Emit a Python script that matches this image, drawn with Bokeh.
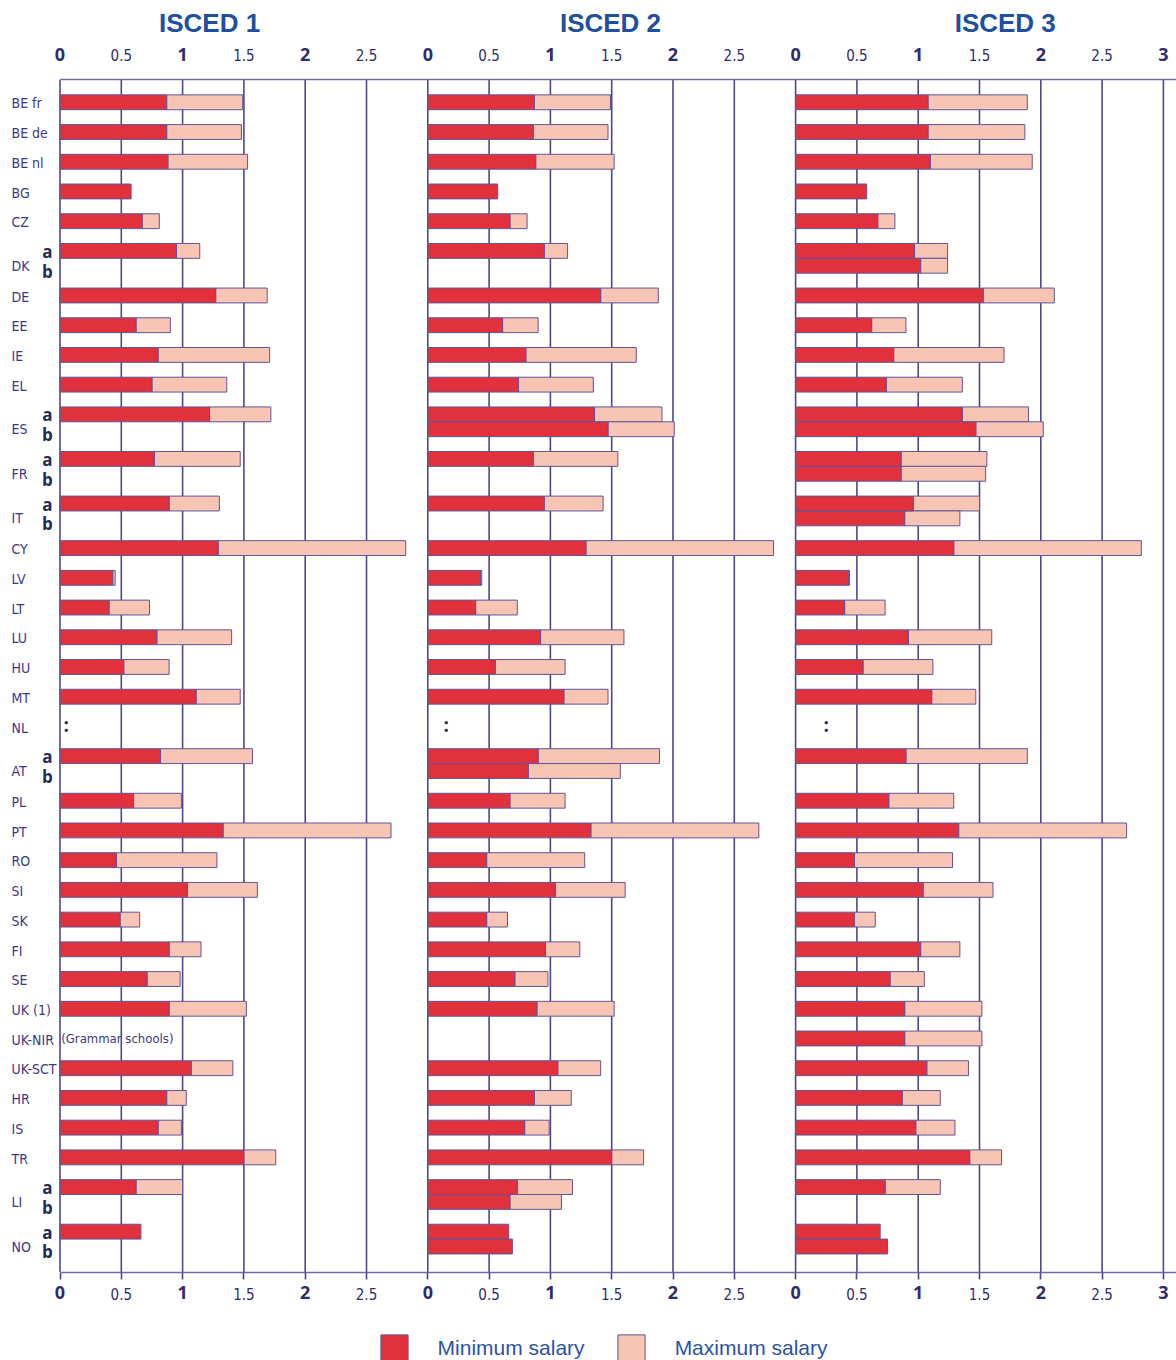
from bokeh.plotting import figure
from bokeh.models import ColumnDataSource, Range1d, LinearAxis, FixedTicker, Legend, LegendItem
from bokeh.core.properties import value
from bokeh.embed import file_html
from bokeh.resources import INLINE

NaN = float("nan")

# ---------------- data ----------------
panel_titles = ["ISCED 1", "ISCED 2", "ISCED 3"]

countries = ["BE fr", "BE de", "BE nl", "BG", "CZ", "DK", "DK", "DE", "EE", "IE", "EL",
             "ES", "ES", "FR", "FR", "IT", "IT", "CY", "LV", "LT", "LU", "HU", "MT", "NL",
             "AT", "AT", "PL", "PT", "RO", "SI", "SK", "FI", "SE", "UK (1)", "UK-NIR",
             "UK-SCT", "HR", "IS", "TR", "LI", "LI", "NO", "NO"]
subrows = ["", "", "", "", "", "a", "b", "", "", "", "",
           "a", "b", "a", "b", "a", "b", "", "", "", "", "", "", "",
           "a", "b", "", "", "", "", "", "", "", "", "",
           "", "", "", "", "a", "b", "a", "b"]

isced1_min = [0.87, 0.87, 0.88, 0.58, 0.67, 0.95, NaN, 1.27, 0.62, 0.80, 0.75,
              1.22, NaN, 0.77, NaN, 0.89, NaN, 1.29, 0.43, 0.40, 0.79, 0.52, 1.11, NaN,
              0.82, NaN, 0.60, 1.33, 0.46, 1.04, 0.49, 0.89, 0.71, 0.89, NaN,
              1.07, 0.87, 0.80, 1.50, 0.62, NaN, 0.66, NaN]
isced1_max = [1.49, 1.48, 1.53, NaN, 0.81, 1.14, NaN, 1.69, 0.90, 1.71, 1.36,
              1.72, NaN, 1.47, NaN, 1.30, NaN, 2.82, 0.45, 0.73, 1.40, 0.89, 1.47, NaN,
              1.57, NaN, 0.99, 2.70, 1.28, 1.61, 0.65, 1.15, 0.98, 1.52, NaN,
              1.41, 1.03, 0.99, 1.76, 1.00, NaN, NaN, NaN]
isced2_min = [0.87, 0.86, 0.88, 0.57, 0.67, 0.95, NaN, 1.41, 0.61, 0.80, 0.74,
              1.36, 1.47, 0.86, NaN, 0.95, NaN, 1.29, 0.43, 0.39, 0.92, 0.55, 1.11, NaN,
              0.90, 0.82, 0.67, 1.33, 0.48, 1.04, 0.48, 0.96, 0.71, 0.89, NaN,
              1.06, 0.87, 0.79, 1.50, 0.73, 0.67, 0.66, 0.69]
isced2_max = [1.49, 1.47, 1.52, NaN, 0.81, 1.14, NaN, 1.88, 0.90, 1.70, 1.35,
              1.91, 2.01, 1.55, NaN, 1.43, NaN, 2.82, 0.44, 0.73, 1.60, 1.12, 1.47, NaN,
              1.89, 1.57, 1.12, 2.70, 1.28, 1.61, 0.65, 1.24, 0.98, 1.52, NaN,
              1.41, 1.17, 0.99, 1.76, 1.18, 1.09, NaN, NaN]
isced3_min = [1.08, 1.08, 1.10, 0.58, 0.67, 0.97, 1.02, 1.53, 0.62, 0.80, 0.74,
              1.36, 1.47, 0.86, 0.86, 0.96, 0.89, 1.29, 0.43, 0.40, 0.92, 0.55, 1.11, NaN,
              0.90, NaN, 0.76, 1.33, 0.48, 1.04, 0.48, 1.02, 0.77, 0.89, 0.89,
              1.07, 0.87, 0.98, 1.42, 0.73, NaN, 0.69, 0.75]
isced3_max = [1.89, 1.87, 1.93, NaN, 0.81, 1.24, 1.24, 2.11, 0.90, 1.70, 1.36,
              1.90, 2.02, 1.56, 1.55, 1.50, 1.34, 2.82, 0.44, 0.73, 1.60, 1.12, 1.47, NaN,
              1.89, NaN, 1.29, 2.70, 1.28, 1.61, 0.65, 1.34, 1.05, 1.52, 1.52,
              1.41, 1.18, 1.30, 1.68, 1.18, NaN, NaN, NaN]

scale_ticks = [0, 0.5, 1, 1.5, 2, 2.5]
scale_max = 3
legend_labels = ["Minimum salary", "Maximum salary"]
note_text = "(Grammar schools)"
note_country = "UK-NIR"
missing_country = "NL"
missing_mark = ":"

mins = [isced1_min, isced2_min, isced3_min]
maxs = [isced1_max, isced2_max, isced3_max]

# ---------------- layout constants ----------------
W, H = 1176, 1360
PX, PY = 122.6, 29.72          # pixels per x unit / per row unit
X0_PX, Y0_PX = 59.5, 101.8     # pixel position of x=0 / first row
PANEL_SPAN = 3.0
BAR_H = 0.5

RED = "#e0313d"
PINK = "#f8c4b4"
BAR_LINE = "#5d5799"
GRID = "#4c4791"
AXIS_LINE = "#6f6ba6"
TICK_C = "#2f2b6f"
LABEL_C = "#3d3884"
SUB_C = "#1f2d5a"
TITLE_C = "#214f9f"
LEG_C = "#2c52a6"
NARROW = "DejaVu Sans Condensed, Roboto"

x_start = -X0_PX / PX
x_end = x_start + W / PX
y_top = -Y0_PX / PY
y_bottom = y_top + H / PY

# row positions: pairs (a/b) occupy half steps
ypos = []
pos = 0.0
for s in subrows:
    ypos.append(pos)
    pos += 0.5 if s == "a" else 1.0

top_axis_y = ypos[0] - 0.77
bottom_axis_y = ypos[-1] + 0.86

p = figure(width=W, height=H, x_range=Range1d(x_start, x_end),
           y_range=Range1d(y_bottom, y_top), output_backend="svg",
           toolbar_location=None, x_axis_location=None, y_axis_location=None,
           min_border=0, title=None, outline_line_color=None,
           background_fill_color="white", border_fill_color="white")
p.xgrid.visible = False
p.ygrid.visible = False

# ---------------- ticks ----------------
int_ticks, half_ticks = [], []
int_over, half_over = {}, {}
for k in range(len(panel_titles)):
    off = k * PANEL_SPAN
    for v in scale_ticks:
        t = float(off + v)
        if float(v).is_integer():
            int_ticks.append(t)
            int_over[t] = "%g" % v
        else:
            half_ticks.append(t)
            half_over[t] = "%g" % v
last = float((len(panel_titles) - 1) * PANEL_SPAN + scale_max)
int_ticks.append(last)
int_over[last] = "%g" % scale_max

grid_x = sorted(int_ticks + half_ticks)
p.segment(x0=grid_x, y0=[top_axis_y] * len(grid_x), x1=grid_x,
          y1=[bottom_axis_y] * len(grid_x), line_color=GRID, line_width=1.6)


def add_axis(side, loc, ticks, over, font, style, size, show_line, tick_out, standoff):
    ax = LinearAxis(fixed_location=loc, ticker=FixedTicker(ticks=ticks),
                    major_label_overrides=over, bounds=(0, x_end))
    ax.axis_line_color = AXIS_LINE if show_line else None
    ax.axis_line_width = 1.5
    ax.major_tick_in = 0
    ax.major_tick_out = tick_out
    ax.major_tick_line_color = GRID
    ax.major_tick_line_width = 1.6
    ax.minor_tick_in = 0
    ax.minor_tick_out = 0
    ax.major_label_standoff = standoff
    ax.major_label_text_font = font
    ax.major_label_text_font_style = style
    ax.major_label_text_font_size = size
    ax.major_label_text_color = TICK_C
    p.add_layout(ax, side)


add_axis("above", top_axis_y, int_ticks, int_over, "Open Sans", "bold", "18px", True, 0, 18)
add_axis("above", top_axis_y, half_ticks, half_over, NARROW, "normal", "15px", False, 0, 18)
add_axis("below", bottom_axis_y, int_ticks, int_over, "Open Sans", "bold", "18px", True, 7, 7)
add_axis("below", bottom_axis_y, half_ticks, half_over, NARROW, "normal", "15px", False, 7, 9)

# ---------------- bars ----------------
min_d = dict(y=[], left=[], right=[])
max_d = dict(y=[], left=[], right=[])
for k in range(len(panel_titles)):
    off = k * PANEL_SPAN
    for i, y in enumerate(ypos):
        mn, mx = mins[k][i], maxs[k][i]
        if mn == mn:
            min_d["y"].append(y); min_d["left"].append(off); min_d["right"].append(off + mn)
            if mx == mx:
                max_d["y"].append(y); max_d["left"].append(off + mn); max_d["right"].append(off + mx)

r_max = p.hbar(y="y", left="left", right="right", height=BAR_H, source=ColumnDataSource(max_d),
               fill_color=PINK, line_color=BAR_LINE, line_width=1)
r_min = p.hbar(y="y", left="left", right="right", height=BAR_H, source=ColumnDataSource(min_d),
               fill_color=RED, line_color=BAR_LINE, line_width=1)

# ---------------- texts ----------------
lab = dict(x=[], y=[], t=[])
sub = dict(x=[], y=[], t=[])
for i, (c, s) in enumerate(zip(countries, subrows)):
    if s in ("", "b"):
        lab["x"].append(x_start + 11 / PX)
        lab["y"].append(ypos[i] + (0.04 if s == "" else 0.0))
        lab["t"].append(c)
    if s:
        sub["x"].append(x_start + 47 / PX)
        sub["y"].append(ypos[i] + (0.02 if s == "a" else 0.18))
        sub["t"].append(s)

p.text(x="x", y="y", text="t", source=ColumnDataSource(lab), text_font=value(NARROW),
       text_font_size="14px", text_color=LABEL_C, text_align="left", text_baseline="middle")
p.text(x="x", y="y", text="t", source=ColumnDataSource(sub), text_font=value("Open Sans"),
       text_font_style="bold", text_font_size="17px", text_color=SUB_C,
       text_align="center", text_baseline="middle")

# note for UK-NIR in ISCED 1
ni = countries.index(note_country)
p.text(x=[0.01], y=[ypos[ni]], text=[note_text], text_font=value(NARROW),
       text_font_size="13px", text_color=LABEL_C, text_align="left", text_baseline="middle")

# missing data marks for NL
nl = countries.index(missing_country)
colon_dx = [0.05, 0.15, 0.25]
p.text(x=[k * PANEL_SPAN + colon_dx[k] for k in range(3)], y=[ypos[nl] - 0.05] * 3,
       text=[missing_mark] * 3, text_font=value("Open Sans"), text_font_style="bold",
       text_font_size="19px", text_color=SUB_C, text_align="center", text_baseline="middle")

# panel titles
title_dx = [1.22, 1.49, 1.71]
p.text(x=[k * PANEL_SPAN + title_dx[k] for k in range(3)], y=[y_top + 22.5 / PY] * 3,
       text=panel_titles, text_font=value("Liberation Sans"), text_font_style="bold",
       text_font_size="26px", text_color=TITLE_C, text_align="center", text_baseline="middle")

# ---------------- legend ----------------
legend = Legend(items=[LegendItem(label=legend_labels[0], renderers=[r_min]),
                       LegendItem(label=legend_labels[1], renderers=[r_max])],
                orientation="horizontal", location=(376.6, -4.6),
                glyph_width=34, glyph_height=34, label_standoff=27, spacing=29,
                padding=0, margin=0, border_line_color=None, background_fill_alpha=0,
                label_text_font="Liberation Sans", label_text_font_size="21px",
                label_text_color=LEG_C)
p.add_layout(legend)

open("out.html", "w").write(file_html(p, INLINE))
